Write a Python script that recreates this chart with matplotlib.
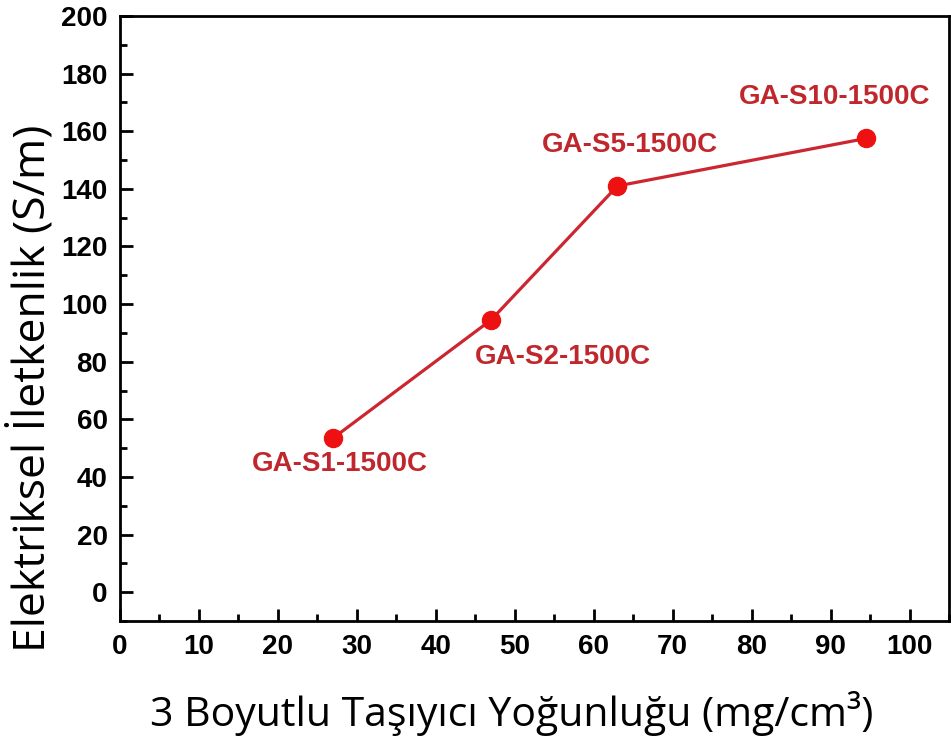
import numpy as np
import matplotlib.pyplot as plt
from matplotlib.ticker import MultipleLocator

# data
density = [27, 47, 63, 94.5]
conductivity = [53.5, 94.5, 141, 157.5]
names = ['GA-S1-1500C', 'GA-S2-1500C', 'GA-S5-1500C', 'GA-S10-1500C']
label_offsets = [(5, -19), (52, -27), (9, 29.5), (-23, 30)]

fig = plt.figure(figsize=(9.51, 7.44), dpi=100)
ax = fig.add_axes([120/951, 1 - 621/744, 829/951, 605/744])

ax.plot(density, conductivity, '-', color='#cc2630', lw=2.3, zorder=2)
ax.plot(density, conductivity, 'o', color='#ee1111', ms=13, zorder=3)

for x, y, name, off in zip(density, conductivity, names, label_offsets):
    ax.annotate(name, (x, y), xytext=off, textcoords='offset points',
                ha='center', va='center', color='#c0272d',
                fontsize=20, fontweight='bold', family='Liberation Sans')

ax.set_xlim(0, 105)
ax.set_ylim(-10, 200)
ax.xaxis.set_minor_locator(MultipleLocator(5))
ax.yaxis.set_minor_locator(MultipleLocator(10))
ax.set_xticks(np.arange(0, 101, 10))
ax.set_yticks(np.arange(0, 201, 20))

ax.tick_params(which='both', direction='in', top=False, right=False, width=2)
ax.tick_params(which='major', length=9, labelsize=20, pad=9)
ax.tick_params(which='minor', length=5)
for lab in ax.get_xticklabels() + ax.get_yticklabels():
    lab.set_fontweight('bold')
    lab.set_family('Liberation Sans')
for sp in ax.spines.values():
    sp.set_linewidth(2)

ax.set_xlabel('3 Boyutlu Taşıyıcı Yoğunluğu (mg/cm³)', fontsize=29.5,
              family='Open Sans')
ax.set_ylabel('Elektriksel İletkenlik (S/m)', fontsize=32,
              family='Open Sans')
ax.xaxis.set_label_coords(0.472, -0.115)
ax.yaxis.set_label_coords(-0.078, 0.385)

fig.savefig('out.png', dpi=100)
